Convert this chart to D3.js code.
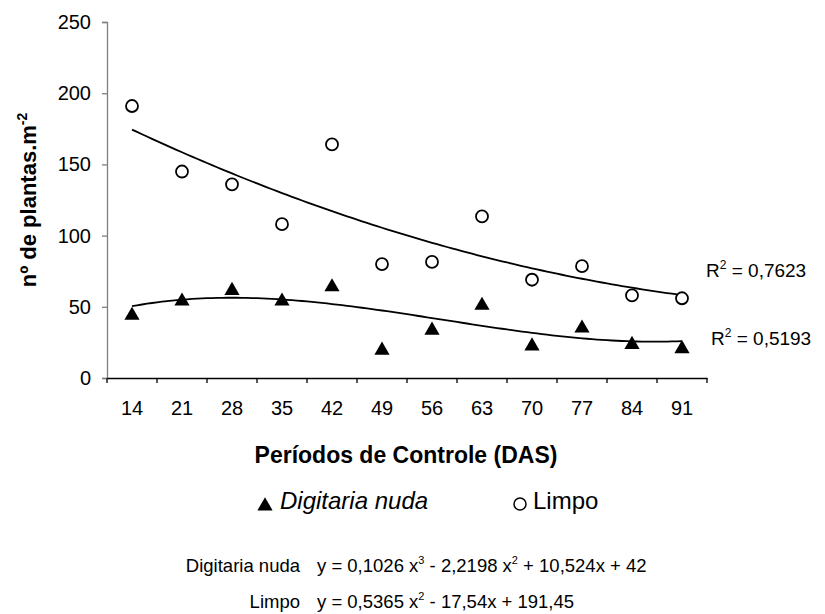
<!DOCTYPE html>
<html>
<head>
<meta charset="utf-8">
<script src="https://cdn.jsdelivr.net/npm/d3@7"></script>
<style>
  body { margin: 0; background: #fff; }
  svg { font-family: "Liberation Sans", Arial, sans-serif; }
</style>
</head>
<body>
<svg id="chart" width="825" height="614"></svg>
<script>
// categories (DAS)
const periods = ["14", "21", "28", "35", "42", "49", "56", "63", "70", "77", "84", "91"];

const limpo = [191, 145, 136, 108, 164, 80, 81.5, 113.5, 69, 78.5, 58, 56];
const digitaria = [45.5, 55.5, 63, 55.5, 65.5, 21, 35, 52.5, 24, 36.5, 25, 22];

// trendline coefficients printed on the chart (x = period index, 1..12)
const limpoCoef = [191.45, -17.54, 0.5365];
const digitariaCoef = [42, 10.524, -2.2198, 0.1026];

const yTicks = [0, 50, 100, 150, 200, 250];

const svg = d3.select("#chart");
const margin = { left: 107, right: 118, top: 22, bottom: 236 };
const width = 825 - margin.left - margin.right;   // 600
const height = 614 - margin.top - margin.bottom;  // 356

const g = svg.append("g").attr("transform", `translate(${margin.left},${margin.top})`);

const x = d3.scaleBand().domain(periods).range([0, width]).padding(0);
const xIdx = d3.scaleLinear().domain([0.5, periods.length + 0.5]).range([0, width]);
const y = d3.scaleLinear().domain([0, 250]).range([height, 0]);

// Y axis
const yAxis = g.append("g")
  .call(d3.axisLeft(y).tickValues(yTicks).tickSize(5).tickPadding(11));
yAxis.select(".domain").attr("stroke", "#808080").attr("stroke-width", 1.3);
yAxis.selectAll(".tick line").attr("stroke", "#808080").attr("stroke-width", 1.3);
yAxis.selectAll("text").style("font-size", "20px").attr("fill", "#000");

// X axis
const xAxis = g.append("g")
  .attr("transform", `translate(0,${height})`)
  .call(d3.axisBottom(x).tickSize(0).tickPadding(23));
xAxis.select(".domain").attr("stroke", "#000").attr("stroke-width", 1.3);
xAxis.selectAll("text").style("font-size", "20px").attr("fill", "#000");
// tick marks on category boundaries
g.append("g")
  .selectAll("line")
  .data(d3.range(periods.length + 1))
  .join("line")
  .attr("x1", (i) => i * x.step())
  .attr("x2", (i) => i * x.step())
  .attr("y1", height)
  .attr("y2", height + 5)
  .attr("stroke", "#000")
  .attr("stroke-width", 1.3);

// trendlines
const poly = (coef) => (t) => coef.reduce((s, c, k) => s + c * Math.pow(t, k), 0);
const tSteps = d3.range(1, periods.length + 0.001, 0.1);
const line = d3.line().x((d) => xIdx(d[0])).y((d) => y(d[1]));

[limpoCoef, digitariaCoef].forEach((coef) => {
  const f = poly(coef);
  g.append("path")
    .datum(tSteps.map((t) => [t, f(t)]))
    .attr("fill", "none")
    .attr("stroke", "#000")
    .attr("stroke-width", 1.8)
    .attr("d", line);
});

// Limpo circles
g.selectAll("circle.limpo")
  .data(limpo)
  .join("circle")
  .attr("class", "limpo")
  .attr("cx", (d, i) => x(periods[i]) + x.bandwidth() / 2)
  .attr("cy", (d) => y(d))
  .attr("r", 6)
  .attr("fill", "#fff")
  .attr("stroke", "#000")
  .attr("stroke-width", 1.8);

// Digitaria triangles (shifted so the box centre sits on the value)
const tri = d3.symbol(d3.symbolTriangle).size(100);
g.selectAll("path.dig")
  .data(digitaria)
  .join("path")
  .attr("class", "dig")
  .attr("d", tri)
  .attr("transform", (d, i) => `translate(${x(periods[i]) + x.bandwidth() / 2},${y(d) + 2.2})`)
  .attr("fill", "#000");

// R² labels
const r2 = [
  { txt: "0,7623", x: 706, y: 277 },
  { txt: "0,5193", x: 711, y: 345 },
];
r2.forEach((r) => {
  const t = svg.append("text")
    .attr("x", r.x).attr("y", r.y)
    .style("font-size", "19px");
  t.append("tspan").text("R");
  t.append("tspan").attr("dy", -8).style("font-size", "12px").text("2");
  t.append("tspan").attr("dy", 8).text(" = " + r.txt);
});

// Y axis title
const yt = svg.append("text")
  .attr("transform", "translate(36,200) rotate(-90)")
  .attr("text-anchor", "middle")
  .style("font-size", "22px")
  .style("font-weight", "bold");
yt.append("tspan").text("nº de plantas.m");
yt.append("tspan").attr("dy", -9).style("font-size", "14px").text("-2");

// X axis title
svg.append("text")
  .attr("x", 406).attr("y", 463)
  .attr("text-anchor", "middle")
  .style("font-size", "23px")
  .style("font-weight", "bold")
  .text("Períodos de Controle (DAS)");

// legend
svg.append("path")
  .attr("d", d3.symbol(d3.symbolTriangle).size(100))
  .attr("transform", "translate(265,506)")
  .attr("fill", "#000");
svg.append("text")
  .attr("x", 280).attr("y", 509)
  .style("font-size", "24px")
  .style("font-style", "italic")
  .text("Digitaria nuda");
svg.append("circle")
  .attr("cx", 520).attr("cy", 504).attr("r", 6)
  .attr("fill", "#fff").attr("stroke", "#000").attr("stroke-width", 1.5);
svg.append("text")
  .attr("x", 533).attr("y", 509)
  .style("font-size", "24px")
  .text("Limpo");

// equations
const eqs = [
  { name: "Digitaria nuda", parts: [["y = 0,1026 x", 0], ["3", 1], [" - 2,2198 x", 0], ["2", 1], [" + 10,524x + 42", 0]], y: 572 },
  { name: "Limpo", parts: [["y = 0,5365 x", 0], ["2", 1], [" - 17,54x + 191,45", 0]], y: 608 },
];
eqs.forEach((e) => {
  svg.append("text")
    .attr("x", 300).attr("y", e.y)
    .attr("text-anchor", "end")
    .style("font-size", "18.5px")
    .text(e.name);
  const t = svg.append("text")
    .attr("x", 317).attr("y", e.y)
    .style("font-size", "18.5px");
  let prevSup = 0;
  e.parts.forEach(([s, sup]) => {
    const span = t.append("tspan").text(s);
    if (sup) span.attr("dy", -8).style("font-size", "11px");
    else if (prevSup) span.attr("dy", 8);
    prevSup = sup;
  });
});
</script>
</body>
</html>
